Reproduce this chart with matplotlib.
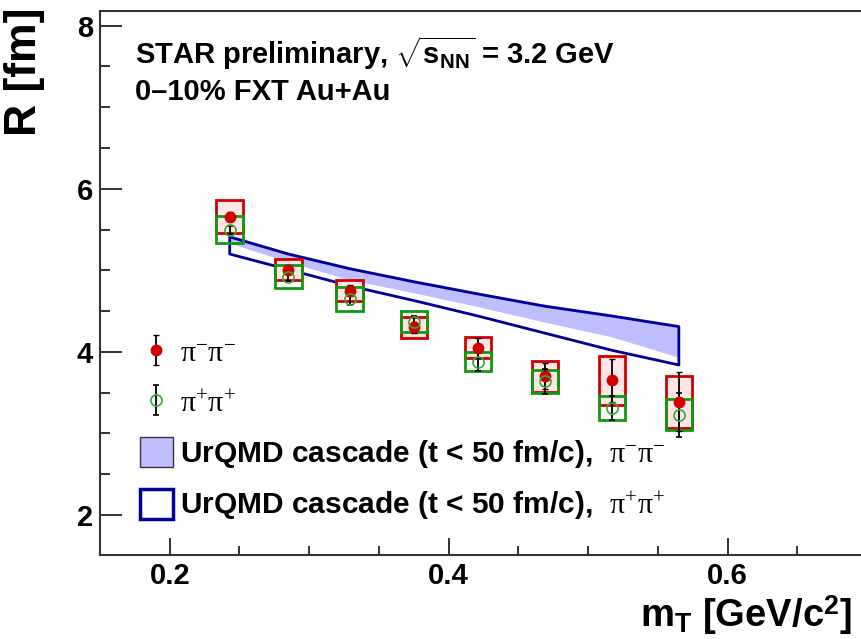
import matplotlib
matplotlib.use("Agg")
import matplotlib.pyplot as plt
import matplotlib.patches as mpatches
from matplotlib.ticker import MultipleLocator

plt.rcParams["font.family"] = ["Liberation Sans", "DejaVu Sans"]
plt.rcParams["mathtext.fontset"] = "custom"
plt.rcParams["mathtext.rm"] = "Liberation Serif:weight=normal"
plt.rcParams["mathtext.it"] = "Liberation Serif:italic"
plt.rcParams["mathtext.bf"] = "Liberation Sans:bold"
plt.rcParams["mathtext.sf"] = "Liberation Sans"
plt.rcParams["mathtext.default"] = "rm"

# mT bins [GeV/c^2]
mt = [0.243, 0.285, 0.329, 0.375, 0.421, 0.469, 0.517, 0.565]

# pi- pi- radii, stat and sys errors [fm]
r_mm = [5.66, 5.01, 4.75, 4.30, 4.05, 3.70, 3.65, 3.39]
stat_mm = [0.05, 0.05, 0.07, 0.07, 0.12, 0.16, 0.26, 0.36]
sys_mm = [0.20, 0.13, 0.13, 0.13, 0.13, 0.19, 0.30, 0.32]

# pi+ pi+ radii, stat and sys errors [fm]
r_pp = [5.50, 4.92, 4.65, 4.37, 3.88, 3.64, 3.31, 3.23]
stat_pp = [0.05, 0.05, 0.07, 0.07, 0.12, 0.15, 0.15, 0.27]
sys_pp = [0.17, 0.14, 0.15, 0.13, 0.12, 0.14, 0.15, 0.19]

# UrQMD cascade bands (t < 50 fm/c)
urqmd_mm_hi = [5.43, 5.22, 5.04, 4.88, 4.73, 4.58, 4.46, 4.33]
urqmd_mm_lo = [5.33, 5.10, 4.88, 4.72, 4.55, 4.36, 4.18, 3.93]
urqmd_pp_hi = [5.41, 5.20, 5.02, 4.86, 4.71, 4.56, 4.44, 4.31]
urqmd_pp_lo = [5.20, 5.01, 4.81, 4.63, 4.44, 4.23, 4.02, 3.84]

red = "#d00000"
green = "#119911"
band_fill = "#bfbfff"
band_line = "#00009a"

fig = plt.figure(figsize=(8.62, 6.39), dpi=100)
ax = fig.add_axes([100 / 862, 1 - 555 / 639, 762 / 862, 544 / 639])

ax.fill_between(mt, urqmd_mm_lo, urqmd_mm_hi, facecolor=band_fill, edgecolor="none", zorder=1)
ax.fill_between(mt, urqmd_pp_lo, urqmd_pp_hi, facecolor="none", edgecolor=band_line, lw=2.0, zorder=2)

box_w = 0.019
ax.bar(mt, [2 * s for s in sys_mm], bottom=[r - s for r, s in zip(r_mm, sys_mm)],
       width=box_w, facecolor="#ffe6e6", edgecolor=red, lw=2.0, zorder=3)
ax.bar(mt, [2 * s for s in sys_pp], bottom=[r - s for r, s in zip(r_pp, sys_pp)],
       width=box_w, facecolor="none", edgecolor=green, lw=2.0, zorder=4)

eb_mm = ax.errorbar(mt, r_mm, yerr=stat_mm, fmt="o", color=red, ms=7.5, ecolor="black",
                    elinewidth=1.3, capsize=2.5, capthick=1.0, zorder=6)
eb_pp = ax.errorbar(mt, r_pp, yerr=stat_pp, fmt="o", mfc="none", mec="#33aa33", mew=1.2,
                    ms=8, ecolor="black", elinewidth=1.3, capsize=2.5, capthick=1.0, zorder=6)

ax.set_xlim(0.15, 0.6963)
ax.set_ylim(1.51, 8.18)

ax.xaxis.set_major_locator(MultipleLocator(0.2))
ax.xaxis.set_minor_locator(MultipleLocator(0.05))
ax.yaxis.set_major_locator(MultipleLocator(2))
ax.yaxis.set_minor_locator(MultipleLocator(0.5))
ax.tick_params(which="both", direction="in", color="#222222", width=1.3, labelsize=21)
ax.tick_params(axis="x", which="major", length=12, pad=5)
ax.tick_params(axis="x", which="minor", length=6.5)
ax.tick_params(axis="y", which="major", length=16, pad=5)
ax.tick_params(axis="y", which="minor", length=7.5)
for lab in ax.get_xticklabels() + ax.get_yticklabels():
    lab.set_fontweight("bold")

ax.spines["right"].set_visible(False)
for side in ["left", "bottom", "top"]:
    ax.spines[side].set_linewidth(1.5)
    ax.spines[side].set_color("#333333")

fig.text(4 / 862, 1 - 8 / 639, "R [fm]", rotation=90, ha="left", va="top",
         fontsize=32, fontweight="bold")
fig.text(640 / 862, 1 - 627 / 639, r"$\mathbf{m}_{\mathbf{T}}$ [GeV/c$^{\mathbf{2}}$]",
         ha="left", va="baseline", fontsize=27.5, fontweight="bold")

ax.text((135 - 100) / 762, (555 - 64) / 544,
        r"STAR preliminary, $\sqrt{\mathbf{s}_{\mathbf{NN}}}$ = 3.2 GeV",
        transform=ax.transAxes, ha="left", va="baseline", fontsize=21, fontweight="bold")
ax.text((135 - 100) / 762, (555 - 100) / 544, "0–10% FXT Au+Au",
        transform=ax.transAxes, ha="left", va="baseline", fontsize=21, fontweight="bold")

fill_patch = mpatches.Patch(facecolor=band_fill, edgecolor="#333333", lw=1.0)
line_patch = mpatches.Patch(facecolor="white", edgecolor=band_line, lw=2.5)
ax.legend([eb_mm, eb_pp, fill_patch, line_patch],
          [r"$\pi^{-}\pi^{-}$", r"$\pi^{+}\pi^{+}$",
           r"UrQMD cascade (t < 50 fm/c),  $\pi^{-}\pi^{-}$",
           r"UrQMD cascade (t < 50 fm/c),  $\pi^{+}\pi^{+}$"],
          loc="upper left", bbox_to_anchor=((140 - 100) / 762, (555 - 337) / 544),
          frameon=False, prop={"size": 21.5, "weight": "bold"}, borderpad=0, borderaxespad=0,
          handlelength=1.1, handleheight=1.2, handletextpad=0.25, labelspacing=0.62)

fig.savefig("out.png", dpi=100)
